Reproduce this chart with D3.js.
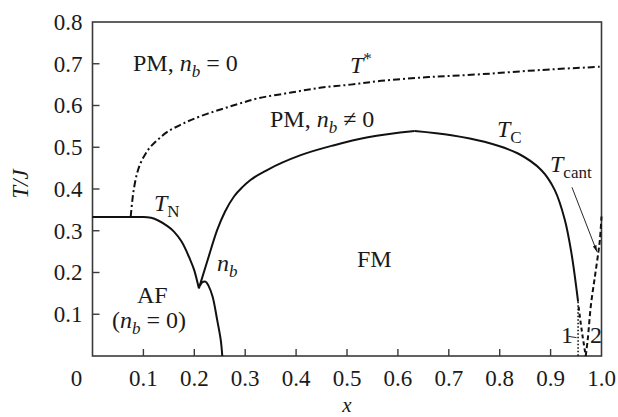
<!DOCTYPE html>
<html>
<head>
<meta charset="utf-8">
<script src="https://cdn.jsdelivr.net/npm/d3@7"></script>
<style>
  html, body { margin: 0; padding: 0; background: #fff; }
  svg { display: block; }
  text { font-family: "Liberation Serif", "Times New Roman", serif; fill: #1a1a1a; }
</style>
</head>
<body>
<svg id="chart" width="618" height="417" font-family="Liberation Serif, serif"></svg>
<script>
// ---- phase boundaries T/J versus x ----
// Néel line T_N (solid), ending at the cusp
const tnX = [0, 0.05, 0.10, 0.115, 0.13, 0.145, 0.16, 0.175, 0.19, 0.20, 0.209];
const tnY = [0.333, 0.333, 0.333, 0.331, 0.324, 0.313, 0.298, 0.274, 0.236, 0.205, 0.162];

// n_b line rising from the cusp into the Curie line T_C, up to its maximum
const tcRiseX = [0.209, 0.225, 0.245, 0.26, 0.278, 0.295, 0.311, 0.344, 0.409, 0.475, 0.541, 0.633];
const tcRiseY = [0.162, 0.225, 0.302, 0.345, 0.382, 0.405, 0.422, 0.446, 0.481, 0.505, 0.524, 0.539];
// falling part of T_C
const tcFallX = [0.633, 0.705, 0.77, 0.836, 0.882, 0.908, 0.928, 0.941, 0.954];
const tcFallY = [0.539, 0.529, 0.513, 0.485, 0.445, 0.398, 0.326, 0.246, 0.130];

// AF / FM boundary below the cusp
const afX = [0.211, 0.216, 0.222, 0.228, 0.236, 0.245, 0.252, 0.255];
const afY = [0.168, 0.177, 0.178, 0.168, 0.142, 0.086, 0.038, 0.0];

// crossover T* (dash-dot)
const tsX = [0.075, 0.078, 0.081, 0.087, 0.094, 0.104, 0.114, 0.13, 0.147, 0.17, 0.193, 0.225, 0.258, 0.29, 0.324, 0.39, 0.45, 0.507, 0.567, 0.66, 0.764, 0.88, 1.0];
const tsY = [0.333, 0.37, 0.398, 0.435, 0.461, 0.484, 0.501, 0.52, 0.537, 0.552, 0.565, 0.58, 0.593, 0.605, 0.617, 0.631, 0.643, 0.65, 0.659, 0.668, 0.675, 0.685, 0.693];

// curve 1 (dotted) and curve 2, T_cant (dashed)
const c1X = [0.954, 0.954];
const c1Y = [0.130, 0.0];
const c2DownX = [0.955, 0.959, 0.963, 0.969];
const c2DownY = [0.118, 0.08, 0.046, 0.0];
const c2UpX = [0.969, 0.973, 0.979, 0.987, 0.994, 0.997, 1.0];
const c2UpY = [0.0, 0.04, 0.12, 0.19, 0.25, 0.28, 0.334];

// axis ticks
const xTicks = [0.1, 0.2, 0.3, 0.4, 0.5, 0.6, 0.7, 0.8, 0.9, 1.0];
const xTickLabels = ["0.1", "0.2", "0.3", "0.4", "0.5", "0.6", "0.7", "0.8", "0.9", "1.0"];
const yTicks = [0.1, 0.2, 0.3, 0.4, 0.5, 0.6, 0.7, 0.8];
const yTickLabels = ["0.1", "0.2", "0.3", "0.4", "0.5", "0.6", "0.7", "0.8"];

const zip = (xs, ys) => xs.map((v, i) => [v, ys[i]]);

const svg = d3.select("#chart");
const m = { left: 92.5, right: 601.5, top: 22, bottom: 356 };
const x = d3.scaleLinear().domain([0, 1]).range([m.left, m.right]);
const y = d3.scaleLinear().domain([0, 0.8]).range([m.bottom, m.top]);

const frameColor = "#3a3a3a";

// plot frame
svg.append("rect")
  .attr("x", m.left).attr("y", m.top)
  .attr("width", m.right - m.left).attr("height", m.bottom - m.top)
  .attr("fill", "none").attr("stroke", frameColor).attr("stroke-width", 1.6);

// inward ticks
const tickLen = 7;
svg.append("g").selectAll("line").data(xTicks.filter(t => t < 1)).join("line")
  .attr("x1", d => x(d)).attr("x2", d => x(d))
  .attr("y1", m.bottom).attr("y2", m.bottom - tickLen)
  .attr("stroke", frameColor).attr("stroke-width", 1.4);
svg.append("g").selectAll("line").data(yTicks.filter(t => t < 0.8)).join("line")
  .attr("x1", m.left).attr("x2", m.left + tickLen)
  .attr("y1", d => y(d)).attr("y2", d => y(d))
  .attr("stroke", frameColor).attr("stroke-width", 1.4);

// tick labels
const tickFont = 23;
svg.append("g").selectAll("text").data(xTicks).join("text")
  .attr("x", d => x(d)).attr("y", 386)
  .attr("text-anchor", "middle").attr("font-size", tickFont)
  .text((d, i) => xTickLabels[i]);
svg.append("text").attr("x", x(0) - 16).attr("y", 386)
  .attr("text-anchor", "middle").attr("font-size", tickFont).text("0");
svg.append("g").selectAll("text").data(yTicks).join("text")
  .attr("x", m.left - 10).attr("y", d => y(d))
  .attr("dy", "0.34em")
  .attr("text-anchor", "end").attr("font-size", tickFont)
  .text((d, i) => yTickLabels[i]);

// axis titles
svg.append("text").attr("x", (m.left + m.right) / 2).attr("y", 412)
  .attr("text-anchor", "middle").attr("font-size", 21)
  .attr("font-style", "italic").text("x");
svg.append("text")
  .attr("transform", `translate(28,${184}) rotate(-90)`)
  .attr("text-anchor", "middle").attr("font-size", tickFont)
  .attr("font-style", "italic").text("T/J");

// curves
const line = d3.line().x(d => x(d[0])).y(d => y(d[1]));
const smooth = d3.line().x(d => x(d[0])).y(d => y(d[1])).curve(d3.curveMonotoneX);
const spline = d3.line().x(d => x(d[0])).y(d => y(d[1])).curve(d3.curveCatmullRom);
const g = svg.append("g").attr("fill", "none").attr("stroke", "#111");

g.append("path").datum(zip(tnX, tnY)).attr("d", smooth).attr("stroke-width", 2);
g.append("path").datum(zip(tcRiseX, tcRiseY)).attr("d", smooth).attr("stroke-width", 2);
g.append("path").datum(zip(tcFallX, tcFallY)).attr("d", spline).attr("stroke-width", 2);
g.append("path").datum(zip(afX, afY)).attr("d", spline).attr("stroke-width", 2);
g.append("path").datum(zip(tsX, tsY)).attr("d", spline)
  .attr("stroke-width", 2).attr("stroke-dasharray", "7,3,2,3");
g.append("path").datum(zip(c1X, c1Y)).attr("d", line)
  .attr("stroke-width", 1.6).attr("stroke-dasharray", "1.5,2");
g.append("path").datum(zip(c2DownX, c2DownY)).attr("d", line)
  .attr("stroke-width", 2).attr("stroke-dasharray", "4,3");
g.append("path").datum(zip(c2UpX, c2UpY)).attr("d", spline)
  .attr("stroke-width", 2).attr("stroke-dasharray", "5,3");

// region and curve labels: parts are [text, kind]; kind: r roman, i italic, s roman subscript, si italic subscript, sup superscript
const labels = [
  { px: 133, py: 71, parts: [["PM, ", "r"], ["n", "i"], ["b", "si"], [" = 0", "r"]] },
  { px: 350, py: 73, parts: [["T", "i"], ["*", "sup"]] },
  { px: 270, py: 127, parts: [["PM, ", "r"], ["n", "i"], ["b", "si"], [" ≠ 0", "r"]] },
  { px: 497, py: 137, parts: [["T", "i"], ["C", "s"]] },
  { px: 550, py: 172, parts: [["T", "i"], ["cant", "s"]] },
  { px: 154, py: 211, parts: [["T", "i"], ["N", "s"]] },
  { px: 217, py: 271, parts: [["n", "i"], ["b", "si"]] },
  { px: 357, py: 267, parts: [["FM", "r"]] },
  { px: 137, py: 303, parts: [["AF", "r"]] },
  { px: 112, py: 328, parts: [["(", "r"], ["n", "i"], ["b", "si"], [" = 0)", "r"]] },
  { px: 561, py: 343, parts: [["1", "r"]] },
  { px: 590, py: 343, parts: [["2", "r"]] }
];
const labelFont = 24, subFont = 17;
labels.forEach(L => {
  const t = svg.append("text").attr("x", L.px).attr("y", L.py).attr("font-size", labelFont)
    .style("white-space", "pre");
  let shift = 0;
  L.parts.forEach(([s, k]) => {
    const ts = t.append("tspan").text(s);
    let target = 0;
    if (k === "i") ts.attr("font-style", "italic");
    if (k === "s" || k === "si") { ts.attr("font-size", subFont); target = 6; }
    if (k === "si") ts.attr("font-style", "italic");
    if (k === "sup") { ts.attr("font-size", subFont); target = -9; }
    if (target !== shift) { ts.attr("dy", target - shift); shift = target; }
  });
});

// T_cant pointer
const defs = svg.append("defs");
defs.append("marker").attr("id", "arr").attr("viewBox", "0 0 10 10")
  .attr("refX", 10).attr("refY", 5).attr("markerWidth", 7).attr("markerHeight", 7)
  .attr("orient", "auto")
  .append("path").attr("d", "M0,2 L10,5 L0,8 Z").attr("fill", "#111");
svg.append("line")
  .attr("x1", x(0.942)).attr("y1", y(0.404))
  .attr("x2", x(0.991)).attr("y2", y(0.25))
  .attr("stroke", "#111").attr("stroke-width", 0.9).attr("marker-end", "url(#arr)");

// leader from label 1 to the dotted curve
svg.append("line")
  .attr("x1", x(0.935)).attr("y1", y(0.047))
  .attr("x2", x(0.951)).attr("y2", y(0.044))
  .attr("stroke", "#111").attr("stroke-width", 0.9);
</script>
</body>
</html>
